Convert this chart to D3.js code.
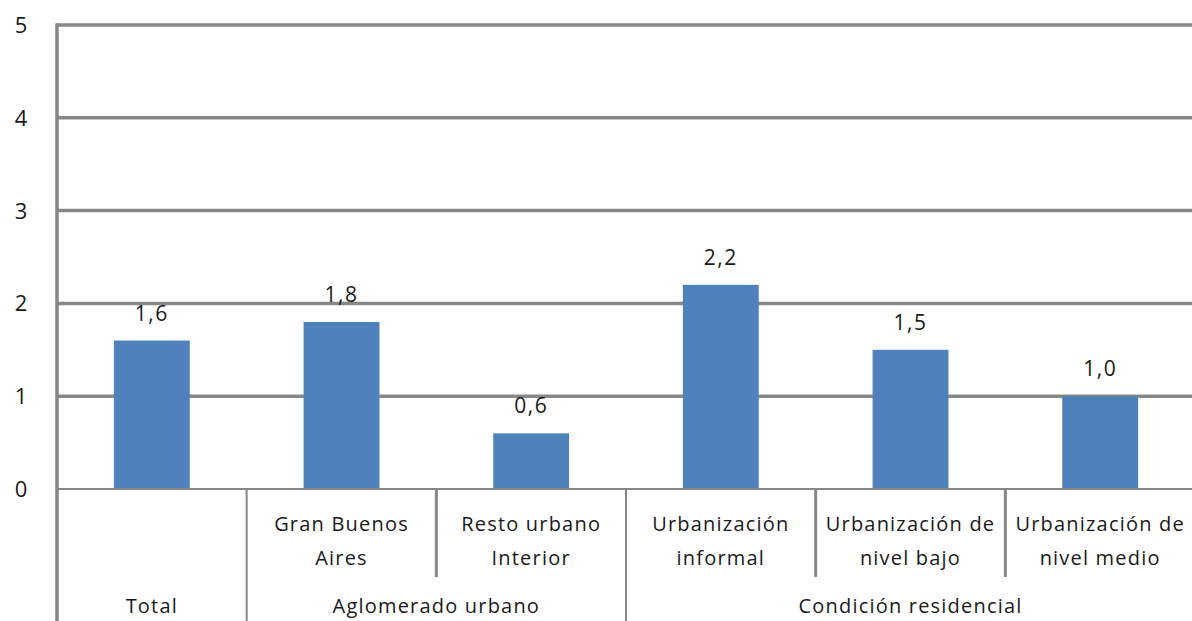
<!DOCTYPE html>
<html>
<head>
<meta charset="utf-8">
<script src="https://cdn.jsdelivr.net/npm/d3@7"></script>
<style>
  body { margin: 0; background: #fff; }
  svg text { font-family: "Open Sans", "Noto Sans", sans-serif; fill: #1a1a1a; }
</style>
</head>
<body>
<svg width="1192" height="621"></svg>
<script>
  // data
  const categories = ['Total', 'Gran Buenos Aires', 'Resto urbano Interior',
    'Urbanización informal', 'Urbanización de nivel bajo', 'Urbanización de nivel medio'];
  const values = [1.6, 1.8, 0.6, 2.2, 1.5, 1.0];
  const catLines = [[''], ['Gran Buenos', 'Aires'], ['Resto urbano', 'Interior'],
    ['Urbanización', 'informal'], ['Urbanización de', 'nivel bajo'], ['Urbanización de', 'nivel medio']];
  const groups = [
    { name: 'Total', from: 0, to: 0 },
    { name: 'Aglomerado urbano', from: 1, to: 2 },
    { name: 'Condición residencial', from: 3, to: 5 }
  ];
  const yTicks = [0, 1, 2, 3, 4, 5];

  const svg = d3.select('svg');
  const margin = { top: 25, left: 57 };
  const x0 = margin.left, x1 = 1195;
  const yZero = 489;

  const xScale = d3.scaleBand()
    .domain(categories)
    .range([x0, x1])
    .paddingInner(0.6)
    .paddingOuter(0.3);
  const step = xScale.step();

  const yScale = d3.scaleLinear()
    .domain([0, 5])
    .range([yZero, margin.top]);

  const gridColor = '#878787';
  const fontSize = 20;
  const spacing = 1.2;

  // gridlines
  svg.append('g').selectAll('line').data(yTicks.filter(d => d > 0))
    .enter().append('line')
      .attr('x1', x0).attr('x2', 1192)
      .attr('y1', d => yScale(d)).attr('y2', d => yScale(d))
      .attr('stroke', gridColor).attr('stroke-width', 3.5);

  // y tick labels
  svg.append('g').selectAll('text').data(yTicks)
    .enter().append('text')
      .attr('x', 21)
      .attr('y', d => yScale(d) + 8)
      .attr('text-anchor', 'middle')
      .attr('font-size', 22)
      .text(d => d);

  // bars
  svg.append('g').selectAll('rect').data(values)
    .enter().append('rect')
      .attr('x', (d, i) => xScale(categories[i]))
      .attr('width', xScale.bandwidth())
      .attr('y', d => yScale(d))
      .attr('height', d => yZero - yScale(d))
      .attr('fill', '#4F81BD');

  // value labels
  svg.append('g').selectAll('text').data(values)
    .enter().append('text')
      .attr('x', (d, i) => xScale(categories[i]) + xScale.bandwidth() / 2)
      .attr('y', d => yScale(d) - 20)
      .attr('text-anchor', 'middle')
      .attr('font-size', 21)
      .attr('letter-spacing', 1.5)
      .text(d => d3.format('.1f')(d).replace('.', ','));

  // zero line
  svg.append('line')
    .attr('x1', x0).attr('x2', 1192)
    .attr('y1', yZero).attr('y2', yZero)
    .attr('stroke', gridColor).attr('stroke-width', 2);

  // y axis line
  svg.append('line')
    .attr('x1', x0).attr('x2', x0)
    .attr('y1', margin.top - 1.75).attr('y2', 621)
    .attr('stroke', gridColor).attr('stroke-width', 3.5);

  // category separators
  const groupStarts = groups.map(g => g.from);
  for (let i = 1; i < categories.length; i++) {
    const xs = x0 + i * step;
    const full = groupStarts.includes(i);
    svg.append('line')
      .attr('x1', xs).attr('x2', xs)
      .attr('y1', yZero).attr('y2', full ? 621 : 577)
      .attr('stroke', gridColor).attr('stroke-width', full ? 2 : 3);
  }

  // category labels
  catLines.forEach((lines, i) => {
    const cx = x0 + (i + 0.5) * step;
    lines.forEach((t, j) => {
      svg.append('text')
        .attr('x', cx)
        .attr('y', 531 + j * 34)
        .attr('text-anchor', 'middle')
        .attr('font-size', fontSize)
        .attr('letter-spacing', spacing)
        .text(t);
    });
  });

  // group labels
  svg.append('g').selectAll('text').data(groups)
    .enter().append('text')
      .attr('x', d => x0 + ((d.from + d.to + 1) / 2) * step)
      .attr('y', 613)
      .attr('text-anchor', 'middle')
      .attr('font-size', fontSize)
      .attr('letter-spacing', spacing)
      .text(d => d.name);
</script>
</body>
</html>
